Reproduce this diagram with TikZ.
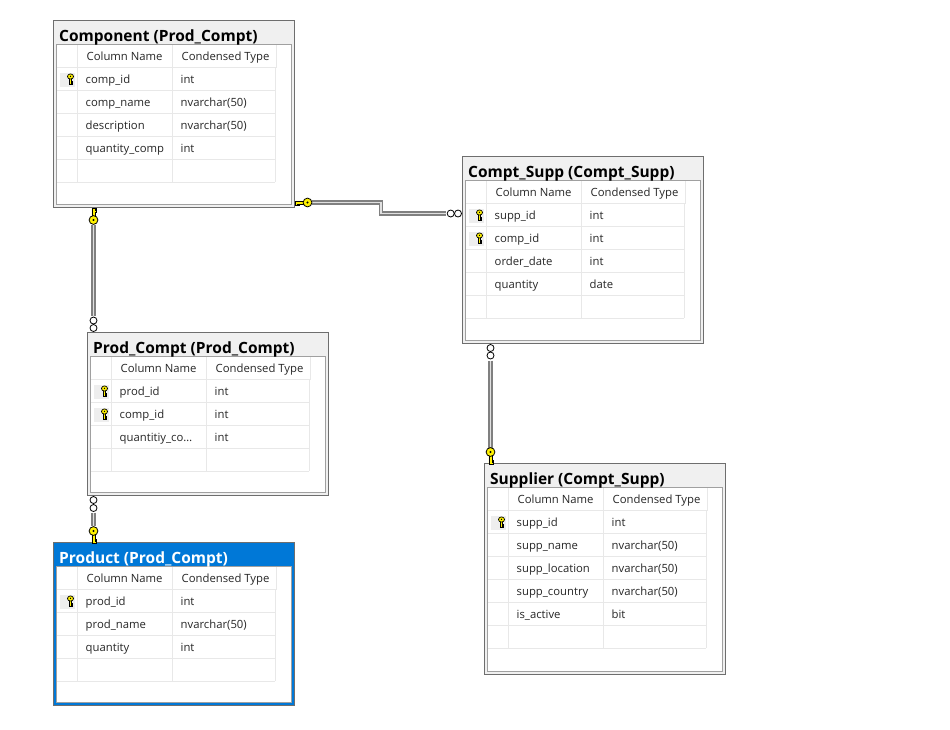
\documentclass[tikz,border=0pt]{standalone}
\usepackage{fontspec}
\setmainfont{Open Sans}
\definecolor{titlegray}{HTML}{F0F0F0}
\definecolor{selblue}{HTML}{0078D7}
\definecolor{edgegray}{HTML}{6E6E6E}
\definecolor{innergray}{HTML}{A0A0A0}
\definecolor{gridgray}{HTML}{E8E8E8}
\definecolor{keyhl}{HTML}{EEEEEE}
\definecolor{keyyellow}{HTML}{FFF200}
\newcommand\qtrunc{quantitiy\_co\ldots}
\tikzset{
  tableframe/.style={draw=edgegray,line width=1pt,inner sep=0pt,outer sep=0pt,anchor=north west,rectangle},
  innerframe/.style={draw=innergray,line width=1.2pt,fill=white},
  gridline/.style={draw=gridgray,line width=1pt},
  titletext/.style={font=\fontsize{15.5}{17}\selectfont\bfseries,anchor=base west,inner sep=0pt},
  celltext/.style={font=\fontsize{11.3}{13}\selectfont,anchor=base west,inner sep=0pt,text=black!85},
  heading/.style={font=\fontsize{11.3}{13}\selectfont,anchor=base west,inner sep=0pt,text=black!85},
  relline/.style={draw=gray,line width=1.2pt,double=white!88!black,double distance=1.7pt},
  oval/.style={circle,draw=black,fill=white,line width=0.8pt,minimum size=7pt,inner sep=0pt,outer sep=0pt},
  keyshape/.style={fill=keyyellow,draw=black,line width=0.8pt},
  pics/relkey/.style={code={
    \path[keyshape] (-1.6,3) -- (-1.6,12) -- (3.2,12) -- (3.2,10.4) -- (1.8,10.4) -- (1.8,9.6) -- (3.2,9.6) -- (3.2,8) -- (1.6,8) -- (1.6,3) -- cycle;
    \path[keyshape] (0,0) circle (4.4);
    \fill[black] (0,0) circle (1.1);
  }},
  pics/rowkey/.style={code={
    \path[fill=keyyellow,draw=black,line width=0.7pt] (-0.9,-1) -- (-0.9,5.5) -- (2,5.5) -- (2,4) -- (0.9,4) -- (0.9,3.2) -- (2,3.2) -- (2,2) -- (0.9,2) -- (0.9,-1) -- cycle;
    \path[fill=keyyellow,draw=black,line width=0.7pt] (0,-2.5) ellipse (3 and 2.6);
    \fill[black] (0,-2.7) circle (0.7);
  }}
}
% id, x, y, number of grid rows, title, frame colour, title colour, rows
\newcommand\erdtable[8]{%
  \begin{scope}[shift={(#2,#3)}]
    \pgfmathsetmacro{\tabh}{67+24*#4}
    \pgfmathsetmacro{\gridend}{46.5+23*#4}
    \node[tableframe,fill=#6,minimum width=241pt,minimum height=\tabh pt] (#1) at (0,0) {};
    \path[innerframe] (3,24) rectangle (238,\tabh-3);
    \node[titletext,text=#7] (#1-title) at (5.5,21) {#5};
    \draw[gridline] (23.5,24.5) -- (23.5,\gridend);
    \draw[gridline] (118.5,24.5) -- (118.5,\gridend);
    \draw[gridline] (223,24.5) -- (223,46.5);
    \draw[gridline] (221.5,46.5) -- (221.5,\gridend);
    \draw[gridline] (3.5,46.5) -- (223,46.5);
    \foreach \gi in {1,...,#4}{\draw[gridline] (3.5,46.5+23*\gi) -- (221.5,46.5+23*\gi);}
    \node[heading] (#1-hname) at (33,39.6) {Column Name};
    \node[heading] (#1-htype) at (128,39.6) {Condensed Type};
    \foreach \iskey/\cname/\ctype [count=\ri from 0] in {#8}{
      \pgfmathsetmacro{\rowtop}{46.5+23*\ri}
      \ifnum\iskey=1
        \fill[keyhl] (6.5,\rowtop+5.7) rectangle (21.5,\rowtop+19.5);
        \pic at (17,\rowtop+12) {rowkey};
      \fi
      \node[celltext] (#1-name\ri) at (32,\rowtop+16.4) {\cname};
      \node[celltext] (#1-type\ri) at (127,\rowtop+16.4) {\ctype};
    }
  \end{scope}%
}
\begin{document}
\begin{tikzpicture}[x=1pt,y=-1pt]
  \useasboundingbox (0,0) rectangle (950,729);
  \fill[white] (0,0) rectangle (950,729);

  % connector ends
  \coordinate (compkeyR) at (312,202.5);
  \coordinate (suppinf) at (446,213.5);
  \coordinate (compkeyB) at (93.5,224.5);
  \coordinate (pcinfT) at (93.5,316);
  \coordinate (pcinfB) at (93.5,512.5);
  \coordinate (prodkey) at (93.5,526);
  \coordinate (csinf) at (490.5,360.5);
  \coordinate (supkey) at (490.5,447.5);

  \draw[relline] (compkeyR) -- (381,202.5) -- (381,213.5) -- (suppinf);
  \draw[relline] (compkeyB) -- (pcinfT);
  \draw[relline] (pcinfB) -- (prodkey);
  \draw[relline] (csinf) -- (supkey);

  \erdtable{comp}{53.5}{20.5}{5}{Component (Prod\_Compt)}{titlegray}{black}{1/comp\_id/int,0/comp\_name/nvarchar(50),0/description/nvarchar(50),0/quantity\_comp/int}
  \erdtable{cs}{462.5}{156.5}{5}{Compt\_Supp (Compt\_Supp)}{titlegray}{black}{1/supp\_id/int,1/comp\_id/int,0/order\_date/int,0/quantity/date}
  \erdtable{pc}{87.5}{332.5}{4}{Prod\_Compt (Prod\_Compt)}{titlegray}{black}{1/prod\_id/int,1/comp\_id/int,0/\qtrunc/int}
  \erdtable{prod}{53.5}{542.5}{4}{Product (Prod\_Compt)}{selblue}{white}{1/prod\_id/int,0/prod\_name/nvarchar(50),0/quantity/int}
  \erdtable{sup}{484.5}{463.5}{6}{Supplier (Compt\_Supp)}{titlegray}{black}{1/supp\_id/int,0/supp\_name/nvarchar(50),0/supp\_location/nvarchar(50),0/supp\_country/nvarchar(50),0/is\_active/bit}

  % key ends
  \pic[cm={0,-1,1,0,(307.5,202.5)}] {relkey};
  \pic[yscale=-1] at (93.5,220) {relkey};
  \pic at (93.5,531) {relkey};
  \pic at (490.5,452) {relkey};

  % infinity ends
  \node[oval] (a1) at (450.7,213.5) {};
  \node[oval] (a2) at (458,213.5) {};
  \node[oval] (b1) at (93.5,320.5) {};
  \node[oval] (b2) at (93.5,328) {};
  \node[oval] (c1) at (93.5,500) {};
  \node[oval] (c2) at (93.5,508) {};
  \node[oval] (d1) at (490.5,348) {};
  \node[oval] (d2) at (490.5,355.5) {};
\end{tikzpicture}
\end{document}
